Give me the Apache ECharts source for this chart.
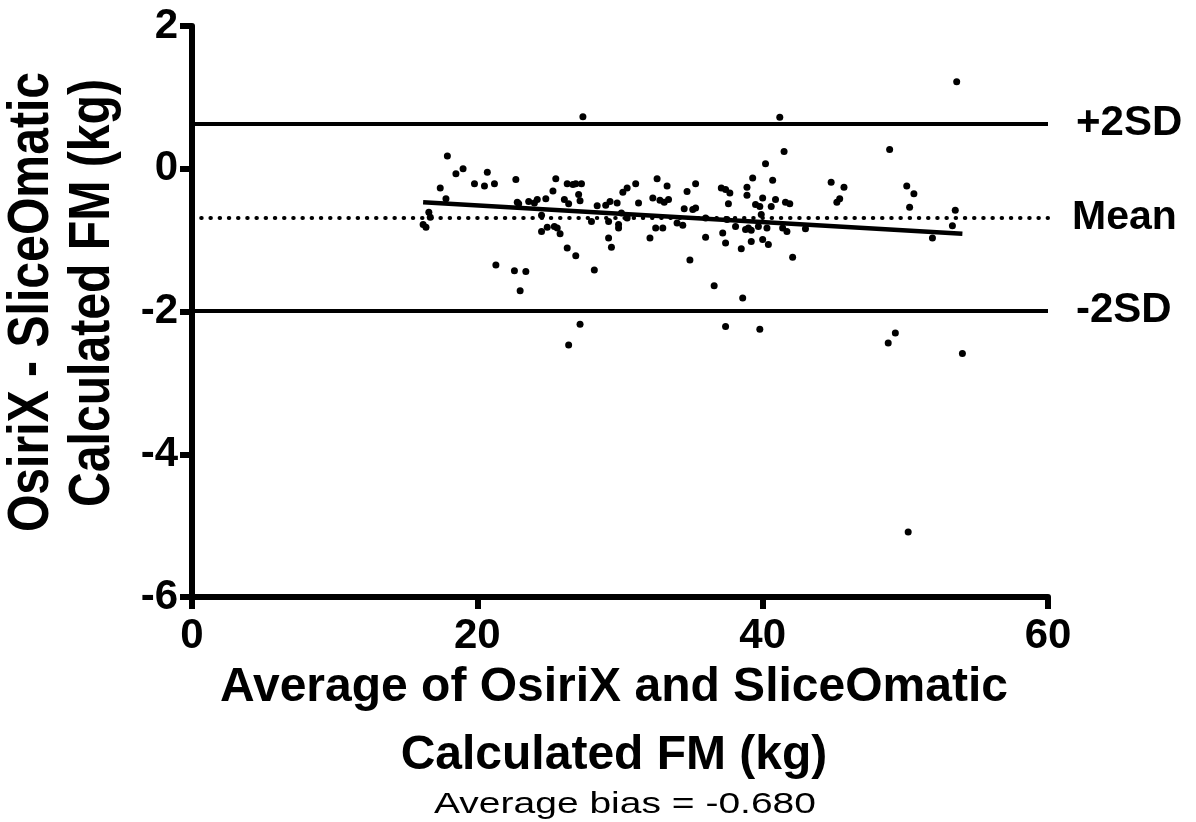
<!DOCTYPE html>
<html>
<head>
<meta charset="utf-8">
<script src="https://cdn.jsdelivr.net/npm/echarts@6/dist/echarts.min.js"></script>
<style>
  html, body { margin: 0; padding: 0; background: #fff; }
  #chart { width: 1196px; height: 822px; }
</style>
</head>
<body>
<div id="chart"></div>
<script>
// Bland-Altman: average of the two methods (x) vs difference (y)
const avgFM = [
  17.9, 18.5, 19.0, 17.4, 17.8, 16.6, 16.2, 16.4, 16.7, 19.8, 20.5, 20.7, 21.2, 22.7, 22.8, 22.9,
  23.6, 24.2, 24.0, 24.8, 24.5, 24.5, 24.9, 21.3, 22.6, 23.4, 23.0,
  27.4, 25.5, 25.3, 26.3, 26.7, 26.9, 27.3, 27.1, 27.2, 26.1, 26.4, 25.4, 25.6, 25.8, 26.3, 26.9,
  28.2, 28.4, 28.0, 29.0, 29.3, 29.8, 29.2, 29.9, 29.9, 30.1, 29.2, 29.4, 30.2, 30.5, 31.1, 30.5,
  31.3, 32.6, 33.3, 32.3, 32.8, 33.4, 33.1, 32.1, 32.5, 33.0, 34.0, 34.4, 34.7, 34.5, 34.9, 27.2, 26.4,
  41.2, 41.5, 40.2, 39.3, 40.7, 38.9, 38.9, 40.0, 40.9, 40.6, 39.5, 39.8, 39.9, 41.6, 41.9, 35.3,
  37.1, 37.4, 37.7, 37.6, 35.3, 35.1, 38.1, 38.8, 39.0, 39.2, 39.7, 40.3, 41.4, 41.7, 43.0, 36.0,
  37.2, 37.4, 38.5, 39.2, 40.0, 40.4, 42.1, 36.6, 38.6, 37.4, 39.8, 36.0, 37.5,
  48.9, 44.8, 45.7, 45.2, 45.4, 50.1, 50.6, 50.3, 53.5, 53.3, 51.9, 49.3, 48.8, 54.0, 53.6, 50.2
];
const diffFM = [
  0.18, -0.07, 0.00, -0.27, -0.42, -0.61, -0.78, -0.82, -0.68, -0.21, -0.24, -0.05, -0.21, -0.15, -0.47, -0.49,
  -0.46, -0.43, -0.48, -0.42, -0.65, -0.88, -0.82, -1.35, -1.43, -1.44, -1.71,
  0.73, -0.14, -0.31, -0.21, -0.22, -0.21, -0.21, -0.36, -0.45, -0.43, -0.49, -0.81, -0.83, -0.91, -1.11, -1.22,
  -1.42, -0.52, -0.74, -0.51, -0.46, -0.48, -0.74, -0.78, -0.83, -0.62, -0.97, -1.10, -0.33, -0.27, -0.21, -0.69,
  -0.48, -0.14, -0.24, -0.41, -0.44, -0.43, -0.47, -0.97, -0.83, -0.83, -0.76, -0.79, -0.32, -0.56, -1.28, -2.18, -2.47,
  0.72, 0.24, 0.07, -0.13, -0.16, -0.26, -0.37, -0.41, -0.43, -0.53, -0.50, -0.53, -0.64, -0.47, -0.49, -0.21,
  -0.27, -0.29, -0.34, -0.49, -0.55, -0.57, -0.81, -0.85, -0.83, -0.86, -0.81, -0.83, -0.83, -0.88, -0.84, -0.96,
  -0.90, -1.04, -1.12, -1.02, -0.99, -1.06, -1.24, -1.64, -1.81, -2.21, -2.25, -0.69, -0.71,
  0.27, -0.19, -0.26, -0.47, -0.42, -0.24, -0.35, -0.54, -0.58, -0.80, -0.97, -2.30, -2.44, -2.59, 1.22, -5.09
];

// regression of difference on average (end points)
const fitX = [16.2, 54.0];
const fitY = [-0.47, -0.91];

const meanBias = -0.68;
const upperLoA = 0.63;
const lowerLoA = -1.99;

const xTicks = [0, 60, 20];   // min, max, step
const yTicks = [-6, 2, 2];

const FONT = 'Liberation Sans, Arial, sans-serif';

const chart = echarts.init(document.getElementById('chart'), null, { renderer: 'canvas' });

const points = avgFM.map((x, i) => [x, diffFM[i]]);

const axisCommon = {
    axisLine: { show: true, onZero: false, lineStyle: { color: '#000', width: 6 } },
    axisTick: { show: true, inside: false, length: 12, lineStyle: { color: '#000', width: 6 } },
    splitLine: { show: false }
};

const option = {
    animation: false,
    backgroundColor: '#ffffff',
    grid: {
        left: 192,
        top: 26,
        width: 856,
        height: 571
    },
    xAxis: Object.assign({
        type: 'value',
        min: xTicks[0],
        max: xTicks[1],
        interval: xTicks[2],
        axisLabel: {
            color: '#000',
            fontFamily: FONT,
            fontWeight: 'bold',
            fontSize: 42,
            margin: 18
        }
    }, axisCommon),
    yAxis: Object.assign({
        type: 'value',
        min: yTicks[0],
        max: yTicks[1],
        interval: yTicks[2],
        axisLabel: {
            color: '#000',
            fontFamily: FONT,
            fontWeight: 'bold',
            fontSize: 42,
            margin: 14
        }
    }, axisCommon),
    series: [
        {
            name: 'points',
            type: 'scatter',
            data: points,
            symbol: 'circle',
            symbolSize: 7,
            itemStyle: { color: '#000', opacity: 1 },
            z: 5,
            markLine: {
                silent: true,
                symbol: ['none', 'none'],
                label: {
                    show: true,
                    position: 'end',
                    formatter: '{b}',
                    color: '#000',
                    fontFamily: FONT,
                    fontWeight: 'bold',
                    fontSize: 42,
                    distance: 28
                },
                data: [
                    { name: '+2SD', yAxis: upperLoA, lineStyle: { color: '#000', width: 4, type: 'solid' } },
                    {
                        name: 'Mean', yAxis: meanBias,
                        lineStyle: { color: '#000', width: 4, type: [0.5, 8.7], cap: 'round' },
                        label: { fontSize: 41, distance: 24 }
                    },
                    { name: '-2SD', yAxis: lowerLoA, lineStyle: { color: '#000', width: 4, type: 'solid' } }
                ]
            }
        },
        {
            name: 'fit',
            type: 'line',
            data: fitX.map((x, i) => [x, fitY[i]]),
            symbol: 'none',
            lineStyle: { color: '#000', width: 4.5 },
            z: 6
        }
    ],
    graphic: [
        {
            type: 'text',
            x: 32, y: 302,
            rotation: Math.PI / 2,
            scaleX: 0.83,
            style: {
                text: 'OsiriX - SliceOmatic',
                font: 'bold 58px ' + FONT,
                fill: '#000',
                align: 'center',
                verticalAlign: 'middle'
            }
        },
        {
            type: 'text',
            x: 93, y: 293,
            rotation: Math.PI / 2,
            scaleX: 0.83,
            style: {
                text: 'Calculated FM (kg)',
                font: 'bold 58px ' + FONT,
                fill: '#000',
                align: 'center',
                verticalAlign: 'middle'
            }
        },
        {
            type: 'text',
            x: 614, y: 688,
            style: {
                text: 'Average of OsiriX and SliceOmatic',
                font: 'bold 48px ' + FONT,
                fill: '#000',
                align: 'center',
                verticalAlign: 'middle'
            }
        },
        {
            type: 'text',
            x: 614, y: 756,
            style: {
                text: 'Calculated FM (kg)',
                font: 'bold 48px ' + FONT,
                fill: '#000',
                align: 'center',
                verticalAlign: 'middle'
            }
        },
        {
            type: 'text',
            x: 625, y: 805,
            scaleX: 1.3,
            style: {
                text: 'Average bias = -0.680',
                font: '30px ' + FONT,
                fill: '#000',
                align: 'center',
                verticalAlign: 'middle'
            }
        }
    ]
};

chart.setOption(option);
</script>
</body>
</html>
